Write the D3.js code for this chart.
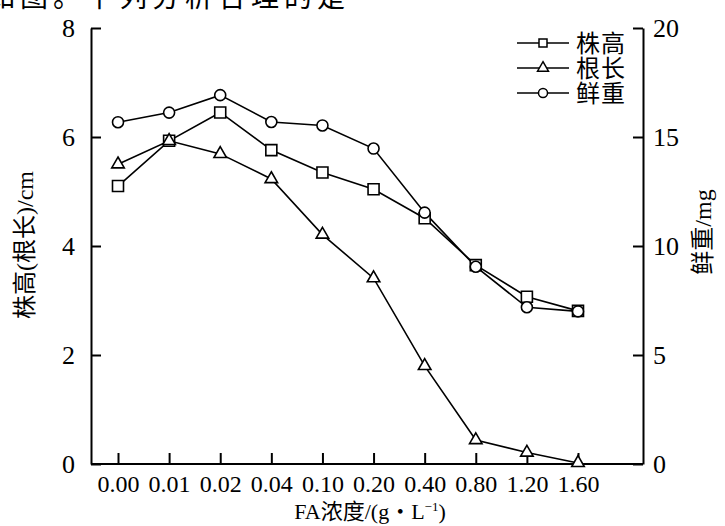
<!DOCTYPE html>
<html><head><meta charset="utf-8">
<script src="https://cdn.jsdelivr.net/npm/d3@7"></script>
<style>
html,body{margin:0;padding:0;background:#fff;}
svg{display:block;}
text{font-family:"Liberation Serif","Times New Roman","Noto Sans CJK SC",serif;fill:#000;}
.cjk{font-family:"Liberation Serif","Noto Sans CJK SC",serif;}
</style></head>
<body>
<svg id="c" width="725" height="526"></svg>
<script>
// ---- data ----
const categories = ["0.00","0.01","0.02","0.04","0.10","0.20","0.40","0.80","1.20","1.60"];
const plantHeight = [5.10,5.93,6.45,5.76,5.35,5.04,4.51,3.65,3.07,2.81];   // 株高 (cm)
const rootLength  = [5.50,5.93,5.69,5.23,4.21,3.41,1.80,0.44,0.21,0.02];   // 根长 (cm)
const freshWeight = [15.68,16.12,16.92,15.69,15.53,14.47,11.53,9.05,7.19,7.00]; // 鲜重 (mg)
const leftTicks  = [0,2,4,6,8];
const rightTicks = [0,5,10,15,20];
const seriesNames = ["株高","根长","鲜重"];

const svg = d3.select("#c");
const L = 91, R = 643, B = 464, T = 28;

const x  = d3.scalePoint().domain(categories).range([118, 578]);
const yL = d3.scaleLinear().domain([0,8]).range([B, T]);
const yR = d3.scaleLinear().domain([0,20]).range([B, T]);

// top cut-off caption text
svg.append("text").attr("class","cjk").attr("x",-13).attr("y",7)
  .style("font-family",'"Noto Sans CJK SC",sans-serif')
  .style("font-size","28px").style("letter-spacing","5px")
  .text("如图。下列分析合理的是");

// axes
const axL = svg.append("g").attr("transform",`translate(${L},0)`)
  .call(d3.axisLeft(yL).tickValues(leftTicks).tickFormat(d3.format("d"))
        .tickSizeInner(-10).tickSizeOuter(0).tickPadding(16));
const axR = svg.append("g").attr("transform",`translate(${R},0)`)
  .call(d3.axisRight(yR).tickValues(rightTicks).tickFormat(d3.format("d"))
        .tickSizeInner(-10).tickSizeOuter(0).tickPadding(10));
const axB = svg.append("g").attr("transform",`translate(0,${B})`)
  .call(d3.axisBottom(x).tickSizeInner(-11).tickSizeOuter(0).tickPadding(11));
axB.select(".domain").remove();
svg.append("line").attr("x1",L).attr("x2",R).attr("y1",B).attr("y2",B)
  .attr("stroke","#000").attr("stroke-width",2);

[axL,axR,axB].forEach(a=>{
  a.selectAll(".domain").attr("stroke-width",2);
  a.selectAll(".tick line").attr("stroke-width",2);
  a.selectAll("text").attr("font-family",null).style("font-size","24px");
});
axL.selectAll(".tick text").style("font-size","26px");
axR.selectAll(".tick text").style("font-size","26px");

// axis titles
svg.append("text").attr("class","cjk")
  .attr("transform","translate(33,245) rotate(-90)")
  .attr("text-anchor","middle").style("font-size","24px").text("株高(根长)/cm");
svg.append("text").attr("class","cjk")
  .attr("transform","translate(711,232) rotate(-90)")
  .attr("text-anchor","middle").style("font-size","24px").text("鲜重/mg");
const xt = svg.append("text").attr("class","cjk").attr("x",370).attr("y",519)
  .attr("text-anchor","middle").style("font-size","22px");
xt.append("tspan").text("FA浓度/(g・L");
xt.append("tspan").attr("dy",-8).style("font-size","13px").text("−1");
xt.append("tspan").attr("dy",8).text(")");

// lines
const series = [
  {name:seriesNames[0], vals:plantHeight, y:yL, sym:d3.symbolSquare, size:121},
  {name:seriesNames[1], vals:rootLength,  y:yL, sym:d3.symbolTriangle, size:68},
  {name:seriesNames[2], vals:freshWeight, y:yR, sym:d3.symbolCircle, size:95}
];
series.forEach(s=>{
  const line = d3.line().x((d,i)=>x(categories[i])).y(d=>s.y(d));
  svg.append("path").attr("d",line(s.vals)).attr("fill","none")
    .attr("stroke","#000").attr("stroke-width",1.6);
});
series.forEach(s=>{
  svg.append("g").selectAll("path").data(s.vals).join("path")
    .attr("transform",(d,i)=>`translate(${x(categories[i])},${s.y(d)})`)
    .attr("d",d3.symbol().type(s.sym).size(s.size)())
    .attr("fill","#fff").attr("stroke","#000").attr("stroke-width",1.6);
});

// legend
const legSizes = [64,52,64];
const lg = svg.append("g");
series.forEach((s,i)=>{
  const yy = 43 + i*25;
  lg.append("line").attr("x1",517).attr("x2",569).attr("y1",yy).attr("y2",yy)
    .attr("stroke","#000").attr("stroke-width",1.6);
  lg.append("path").attr("transform",`translate(543,${yy})`)
    .attr("d",d3.symbol().type(s.sym).size(legSizes[i])())
    .attr("fill","#fff").attr("stroke","#000").attr("stroke-width",1.5);
  lg.append("text").attr("class","cjk").attr("x",576).attr("y",yy).attr("dy","0.36em")
    .style("font-size","24px").style("letter-spacing","1px").text(s.name);
});
</script>
</body></html>
